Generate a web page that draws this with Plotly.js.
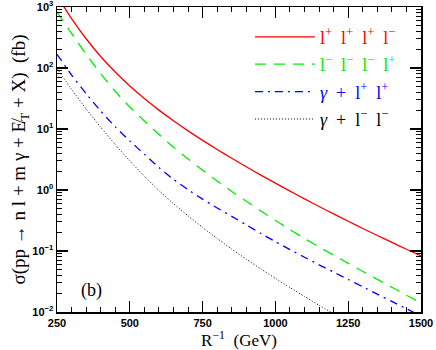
<!DOCTYPE html>
<html>
<head>
<meta charset="utf-8">
<script src="https://cdn.plot.ly/plotly-3.0.1.min.js"></script>
<style>
  body { margin: 0; background: #fff; }
  #plot { width: 436px; height: 350px; }
</style>
</head>
<body>
<div id="plot"></div>
<script>
// R^-1 (GeV)
const rinv = [250, 300, 350, 400, 450, 500, 550, 600, 650, 700, 750, 800, 850,
  900, 950, 1000, 1050, 1100, 1150, 1200, 1250, 1300, 1350, 1400, 1450, 1500]

// cross sections (fb)
const sig_4l_a = [1529, 645, 301.6, 154.7, 86.0, 50.7, 31.6, 20.4, 13.63, 9.32, 6.52, 4.62, 3.31,
  2.40, 1.756, 1.294, 0.959, 0.715, 0.536, 0.405, 0.307, 0.234, 0.1797, 0.1382, 0.1067, 0.0828]
const sig_4l_b = [834, 368, 168.3, 80.5, 41.3, 22.96, 13.52, 8.15, 5.04, 3.23, 2.11, 1.40, 0.948,
  0.652, 0.452, 0.317, 0.224, 0.160, 0.1164, 0.0853, 0.0627, 0.0462, 0.0342, 0.0254, 0.01887, 0.01406]
const sig_g2l_a = [167.9, 76.7, 38.0, 19.7, 10.84, 6.38, 3.85, 2.34, 1.496, 1.012, 0.708, 0.507, 0.370,
  0.268, 0.194, 0.1422, 0.1054, 0.0791, 0.0593, 0.0450, 0.0341, 0.0259, 0.0196, 0.0149, 0.0113, 0.00857]
const sig_g2l_b = [97.9, 44.8, 21.4, 10.74, 5.57, 2.99, 1.683, 0.979, 0.597, 0.377, 0.243, 0.1607, 0.1074,
  0.0735, 0.0508, 0.0356, 0.0252, 0.0180, 0.0129, 0.00935]

const sp = '\u00a0\u00a0'
const labels = [
  ['l<sup>+</sup>', 'l<sup>+</sup>', 'l<sup>+</sup>', 'l<sup>\u2212</sup>'].join(sp),
  ['l<sup>\u2212</sup>', 'l<sup>\u2212</sup>', 'l<sup>\u2212</sup>', 'l<sup>+</sup>'].join(sp),
  ['<i>\u03b3</i>', '+', 'l<sup>+</sup>', 'l<sup>+</sup>'].join(sp),
  ['<i>\u03b3</i>', '+', 'l<sup>\u2212</sup>', 'l<sup>\u2212</sup>'].join(sp)
]

const ytickvals = [0.01, 0.1, 1, 10, 100, 1000]
const yticktext = ['10<sup>\u22122</sup>', '10<sup>\u22121</sup>', '10<sup>0</sup>',
  '10<sup>1</sup>', '10<sup>2</sup>', '10<sup>3</sup>']

const series = [sig_4l_a, sig_4l_b, sig_g2l_a, sig_g2l_b]
const colors = ['#ff0000', '#00ee00', '#0000ff', '#000000']
const dashes = ['solid', '11px,8px', '8px,5px,2px,5px', '1px,2px']
const widths = [1.3, 1.3, 1.3, 1]

let traces = []
for(let i=0;i<series.length;i++){
  traces.push({
    type: 'scatter',
    mode: 'lines',
    x: rinv.slice(0, series[i].length),
    y: series[i],
    name: '<span style="color:'+colors[i]+'">'+labels[i]+'</span>',
    legendgroup: 'g'+i,
    line: {color: colors[i], width: widths[i], dash: dashes[i], shape: 'spline', smoothing: 0.5}
  })
}

const tickfont = {family: 'Liberation Sans, Arial, sans-serif', size: 11, color: '#000', weight: 'bold'}
const serif = 'Liberation Serif, Times New Roman, serif'

Plotly.newPlot('plot', traces, {
  width: 436,
  height: 350,
  margin: {l: 57, r: 15, t: 7, b: 38},
  paper_bgcolor: '#fff',
  plot_bgcolor: '#fff',
  showlegend: true,
  legend: {
    x: 0.53, y: 0.962, xanchor: 'left', yanchor: 'top',
    bgcolor: 'rgba(0,0,0,0)',
    font: {family: serif, size: 18, color: '#000'},
    itemwidth: 60,
    tracegroupgap: 1
  },
  xaxis: {
    range: [250, 1500],
    tickvals: [250, 500, 750, 1000, 1250, 1500],
    ticks: 'inside', ticklen: 11, tickwidth: 1.2, tickcolor: '#000',
    minor: {dtick: 50, ticks: 'inside', ticklen: 5, tickwidth: 1, tickcolor: '#000'},
    showline: true, linecolor: '#000', linewidth: 1.5, mirror: 'ticks',
    showgrid: false, zeroline: false,
    tickfont: tickfont,
    title: {text: 'R<sup>\u22121</sup>\u00a0\u00a0(GeV)', font: {family: serif, size: 17, color: '#000'}, standoff: 3}
  },
  yaxis: {
    type: 'log',
    range: [-2.0001, 3.0001],
    tickvals: ytickvals,
    ticktext: yticktext,
    ticklabeloverflow: 'allow',
    ticks: 'inside', ticklen: 11, tickwidth: 1.2, tickcolor: '#000',
    minor: {dtick: 'D1', ticks: 'inside', ticklen: 5, tickwidth: 1, tickcolor: '#000'},
    showline: true, linecolor: '#000', linewidth: 1.5, mirror: 'ticks',
    showgrid: false, zeroline: false,
    tickfont: tickfont,
    title: {text: '\u03c3(pp\u00a0\u2192\u00a0n\u00a0l\u00a0+\u00a0m\u00a0\u03b3\u00a0+\u00a0E\u0338<sub>T</sub>\u00a0+\u00a0X)\u00a0\u00a0(fb)',
      font: {family: serif, size: 19, color: '#000'}, standoff: 0}
  },
  annotations: [{
    text: '(b)', xref: 'paper', yref: 'paper', x: 0.096, y: 0.072,
    xanchor: 'center', yanchor: 'middle',
    showarrow: false, font: {family: serif, size: 18, color: '#000'}
  }]
}, {staticPlot: true})
</script>
</body>
</html>
